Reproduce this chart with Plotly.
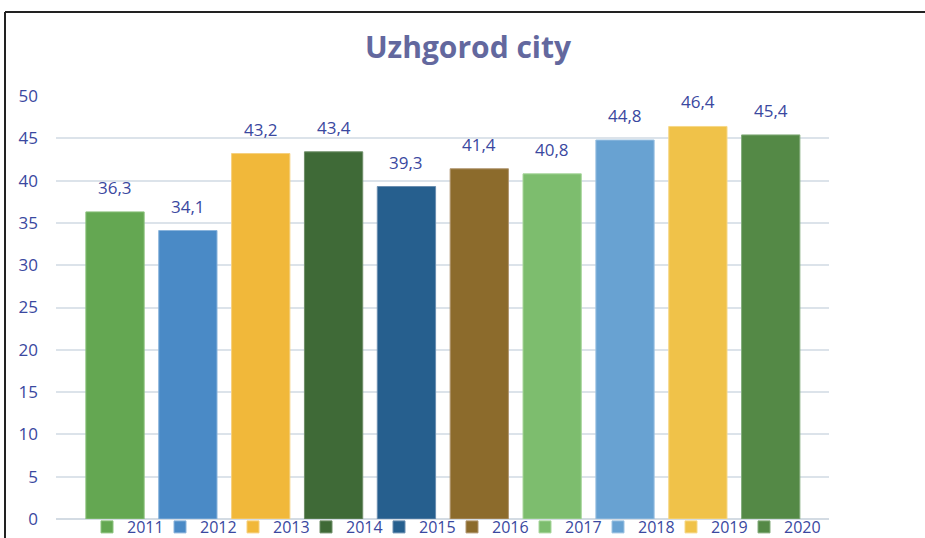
import plotly.graph_objects as go

years = ["2011", "2012", "2013", "2014", "2015", "2016", "2017", "2018", "2019", "2020"]
values = [36.3, 34.1, 43.2, 43.4, 39.3, 41.4, 40.8, 44.8, 46.4, 45.4]
colors = ["#64A752", "#4A8AC6", "#F1B83A", "#3F6A37", "#265F8E", "#8C6B2C",
          "#7DBD6E", "#68A2D2", "#F0C249", "#548946"]
line_colors = ["#8CC27E", "#8AB4DC", "#F6D07E", "#6E8E68", "#6A8EB0", "#B09670",
               "#A8D69C", "#9CC2E2", "#F6D888", "#84AC7C"]
y_ticks = [0, 5, 10, 15, 20, 25, 30, 35, 40, 45, 50]
title_text = "Uzhgorod city"

label_color = "#3A48A0"
font_family = "Open Sans, Noto Sans, sans-serif"

fig = go.Figure()
for i, (yr, v) in enumerate(zip(years, values)):
    fig.add_trace(go.Bar(
        x=[i], y=[v], name=yr, width=0.8,
        marker=dict(color=colors[i], line=dict(color=line_colors[i], width=1)),
        hoverinfo="x+y",
    ))
    fig.add_annotation(
        x=i, y=v, xref="x", yref="y", text=f"{v:.1f}".replace(".", ","),
        showarrow=False, yanchor="bottom", yshift=11,
        font=dict(size=17, color=label_color, family=font_family),
    )

# invisible spacer entry so the last legend label is not clipped
fig.add_trace(go.Bar(x=[0], y=[0], name=" ", width=0.01,
                     marker=dict(color="rgba(0,0,0,0)", line=dict(width=0)),
                     hoverinfo="skip"))

W, H = 925, 538
ml, mr, mt, mb = 56, 96, 96, 19
pw, ph = W - ml - mr, H - mt - mb

# chart frame (top and left edges)
fx0 = (5 - ml) / pw
fy = (H - mb - 12) / ph
fig.add_shape(type="line", xref="paper", yref="paper", x0=fx0, x1=(W - ml) / pw + 0.01,
              y0=fy, y1=fy, line=dict(color="#222222", width=2))
fig.add_shape(type="line", xref="paper", yref="paper", x0=fx0, x1=fx0,
              y0=fy, y1=-(mb + 5) / ph, line=dict(color="#222222", width=2))

fig.update_layout(
    width=W, height=H,
    margin=dict(l=ml, r=mr, t=mt, b=mb, autoexpand=False),
    paper_bgcolor="white", plot_bgcolor="white",
    separators=", ",
    title=dict(text=f"<b>{title_text}</b>", x=468 / W, xref="container", xanchor="center",
               y=1 - 47 / H, yref="container", yanchor="middle",
               font=dict(size=30, color="#63689E", family=font_family)),
    xaxis=dict(range=[-0.81, 9.80], showticklabels=False, showgrid=False, zeroline=False,
               showline=False, fixedrange=True),
    yaxis=dict(range=[0, 50], tickvals=y_ticks, showgrid=True, gridcolor="#DCE3EA", gridwidth=1.5,
               zeroline=True, zerolinecolor="#D3DBE3", zerolinewidth=2, showline=False,
               ticks="", ticklabelstandoff=17, fixedrange=True,
               tickfont=dict(size=17, color=label_color, family=font_family)),
    barmode="overlay",
    showlegend=True,
    legend=dict(orientation="h", x=(890 - ml) / pw, xanchor="right", y=-(527 - (H - mb)) / ph,
                yanchor="middle",
                bgcolor="rgba(0,0,0,0)", entrywidth=28, itemwidth=30,
                font=dict(size=16, color=label_color, family=font_family),
                traceorder="normal"),
)

fig.write_html("out.html", config={"displayModeBar": False},
               post_script="document.body.style.margin='0';")
